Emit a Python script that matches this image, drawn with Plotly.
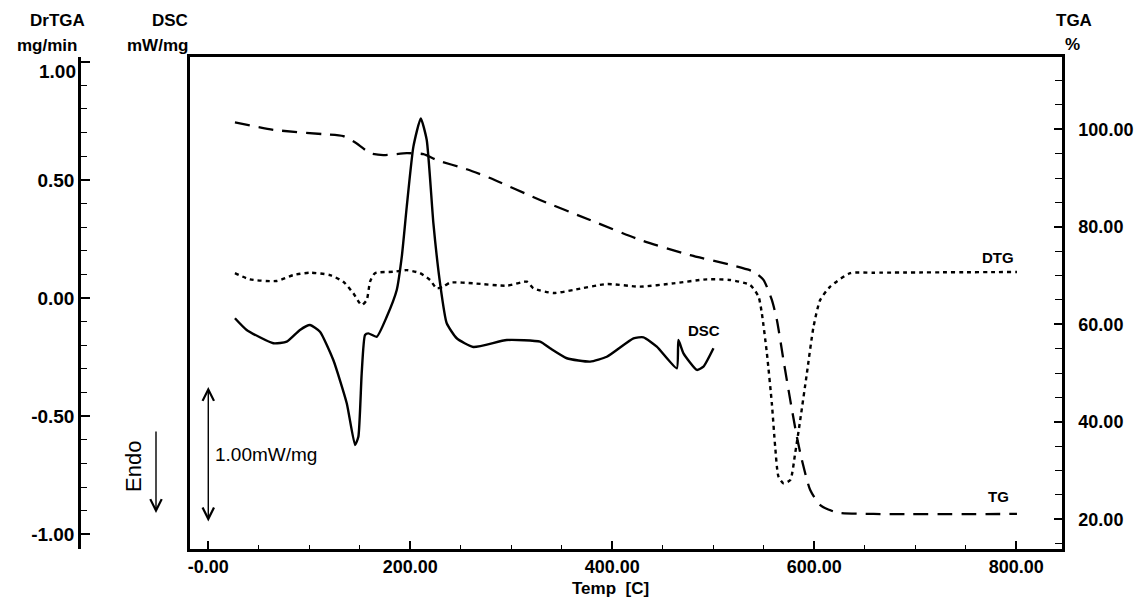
import plotly.graph_objects as go

# ---- thermal analysis data ----
# TGA (weight %, right axis)
tga_temp = [26.4, 64.4, 113.9, 133.7, 147.0, 160.2, 173.3, 196.5, 213.0, 226.2, 255.9, 279.0,
            328.5, 378.0, 427.6, 477.1, 516.7, 539.8, 549.7, 558.0, 563.0, 569.5, 576.2, 582.8,
            587.7, 596.0, 605.9, 622.4, 658.7, 800.7]
tga_pct = [101.4, 99.9, 99.0, 98.6, 97.1, 95.1, 94.7, 95.1, 94.9, 93.7, 91.8, 90.0,
           85.5, 81.4, 77.3, 74.2, 72.2, 70.8, 69.1, 65.0, 60.9, 52.7, 44.5, 36.9,
           32.2, 26.0, 22.9, 21.4, 21.1, 21.1]

# DTG (mg/min, far-left axis)
dtg_temp = [26.4, 41.3, 67.7, 84.2, 100.7, 120.5, 133.7, 143.6, 151.9, 156.9, 160.2, 165.1,
            183.2, 196.5, 209.7, 219.6, 226.2, 232.8, 239.4, 262.5, 295.6, 315.4, 321.9, 341.7,
            361.5, 394.6, 427.6, 460.6, 493.7, 516.7, 536.5, 544.8, 548.1, 553.1, 558.0, 561.3,
            564.6, 569.5, 576.2, 581.1, 586.1, 592.7, 599.3, 605.9, 615.8, 635.6, 658.7, 800.7]
dtg_val = [0.105, 0.079, 0.072, 0.097, 0.107, 0.097, 0.069, 0.020, -0.030, -0.008, 0.069, 0.105,
           0.111, 0.118, 0.105, 0.076, 0.041, 0.048, 0.065, 0.062, 0.052, 0.069, 0.041, 0.021,
           0.034, 0.059, 0.048, 0.062, 0.079, 0.076, 0.055, 0.006, -0.065, -0.234, -0.446, -0.629,
           -0.756, -0.784, -0.770, -0.657, -0.516, -0.319, -0.121, -0.008, 0.048, 0.105, 0.107, 0.110]

# DSC (mW/mg, left frame axis, no tick labels)
dsc_temp = [26.4, 38.0, 64.4, 77.7, 90.8, 100.7, 110.6, 123.8, 137.1, 145.3, 148.6, 151.9,
            155.2, 158.5, 166.8, 176.7, 186.6, 191.6, 196.5, 203.1, 210.4, 216.3, 222.9, 229.5,
            236.1, 246.0, 262.5, 295.6, 328.5, 338.4, 355.0, 378.1, 394.6, 421.0, 430.9, 444.1,
            463.9, 465.5, 470.5, 483.8, 490.3, 500.2]
dsc_val = [-0.149, -0.235, -0.333, -0.321, -0.235, -0.199, -0.248, -0.456, -0.774, -1.081, -1.020, -0.554,
           -0.272, -0.260, -0.285, -0.138, 0.059, 0.304, 0.671, 1.113, 1.321, 1.162, 0.549, 0.108,
           -0.186, -0.296, -0.360, -0.309, -0.321, -0.370, -0.443, -0.468, -0.432, -0.296, -0.289, -0.358,
           -0.517, -0.309, -0.407, -0.529, -0.505, -0.370]

# ---- axis ticks ----
x_tickvals = [0, 200, 400, 600, 800]
x_ticktext = ["-0.00", "200.00", "400.00", "600.00", "800.00"]
tga_tickvals = [20, 40, 60, 80, 100]
tga_ticktext = ["20.00", "40.00", "60.00", "80.00", "100.00"]
dtg_tickvals = [-1.0, -0.5, 0.0, 0.5, 1.0]
dtg_ticktext = ["-1.00", "-0.50", "0.00", "0.50", "1.00"]

FONT = "Arial, Liberation Sans, sans-serif"
TICK_FONT = dict(family=FONT, size=18, color="black", weight="bold")
LEFT_TICK_FONT = dict(family=FONT, size=19, color="black", weight="bold")

fig = go.Figure()

fig.add_trace(go.Scatter(
    x=tga_temp, y=tga_pct, yaxis="y2", mode="lines",
    line=dict(color="black", width=2.3, dash="15px,9px", shape="spline", smoothing=0.6),
    showlegend=False, hoverinfo="skip"))

fig.add_trace(go.Scatter(
    x=dtg_temp, y=dtg_val, yaxis="y3", mode="lines",
    line=dict(color="black", width=2.4, dash="4px,4px", shape="spline", smoothing=0.6),
    showlegend=False, hoverinfo="skip"))

fig.add_trace(go.Scatter(
    x=dsc_temp, y=dsc_val, yaxis="y", mode="lines",
    line=dict(color="black", width=2.4, shape="spline", smoothing=0.5),
    showlegend=False, hoverinfo="skip"))

W, H = 1141, 597
ML, MR, MT, MB = 79, 79, 57, 48
plot_w = W - ML - MR
x_left_px = 190
x_dom0 = (x_left_px - ML) / plot_w

# the top DrTGA label sits just below its tick, so it is drawn separately
dtg_axis_text = [t if v != 1.0 else "" for v, t in zip(dtg_tickvals, dtg_ticktext)]

fig.update_layout(
    width=W, height=H,
    margin=dict(l=ML, r=MR, t=MT, b=MB, autoexpand=False),
    paper_bgcolor="white", plot_bgcolor="white",
    xaxis=dict(
        domain=[x_dom0, 1], range=[-18.1, 845.3], automargin=False,
        showline=True, linecolor="black", linewidth=2.5, mirror=True,
        ticks="inside", ticklen=8, tickwidth=1.6, tickcolor="black",
        tickvals=x_tickvals, ticktext=x_ticktext, tickfont=TICK_FONT,
        ticklabelstandoff=0,
        minor=dict(dtick=50, tick0=0, ticks="inside", ticklen=4, tickwidth=1.4, tickcolor="black"),
        showgrid=False, zeroline=False),
    yaxis=dict(
        range=[-1.8456, 1.7721], automargin=False,
        showline=True, linecolor="black", linewidth=2.5,
        ticks="", showticklabels=False, showgrid=False, zeroline=False),
    yaxis2=dict(
        overlaying="y", side="right", anchor="x", range=[13.91, 114.83], automargin=False,
        showline=True, linecolor="black", linewidth=2.5,
        ticks="inside", ticklen=8, tickwidth=1.6, tickcolor="black",
        tickvals=tga_tickvals, ticktext=tga_ticktext, tickfont=TICK_FONT,
        ticklabelstandoff=10,
        minor=dict(dtick=5, tick0=0, ticks="inside", ticklen=7, tickwidth=1.4, tickcolor="black"),
        showgrid=False, zeroline=False),
    yaxis3=dict(
        overlaying="y", side="left", anchor="free", position=0, range=[-1.0622, 1.0199],
        automargin=False,
        showline=True, linecolor="black", linewidth=2.5,
        ticks="inside", ticklen=9, tickwidth=1.6, tickcolor="black",
        tickvals=dtg_tickvals, ticktext=dtg_axis_text, tickfont=LEFT_TICK_FONT,
        minor=dict(dtick=0.1, tick0=0, ticks="inside", ticklen=6, tickwidth=1.4, tickcolor="black"),
        showgrid=False, zeroline=False),
)


def px_x(p):
    return (p - ML) / plot_w


def px_y(p):
    return (H - MB - p) / (H - MT - MB)


fig.add_annotation(text=dtg_ticktext[-1], xref="paper", yref="paper", x=px_x(78), y=px_y(71),
                   xanchor="right", yanchor="middle", showarrow=False, font=LEFT_TICK_FONT)

title_font = dict(family=FONT, size=17, color="black", weight="bold")
labels = [
    ("DrTGA", 87, 21, "right"),
    ("mg/min", 79, 46, "right"),
    ("DSC", 190, 21, "right"),
    ("mW/mg", 190, 46, "right"),
    ("TGA", 1074, 20, "center"),
    ("%", 1072, 45, "center"),
    ("Temp  [C]", 610, 588, "center"),
]
for text, xp, yp, anchor in labels:
    fig.add_annotation(text=text, xref="paper", yref="paper", x=px_x(xp), y=px_y(yp),
                       xanchor=anchor, yanchor="middle", showarrow=False, font=title_font)

# curve labels
curve_font = dict(family=FONT, size=15, color="black", weight="bold")
fig.add_annotation(text="DTG", x=800, y=0.17, xref="x", yref="y3", xanchor="right",
                   showarrow=False, font=curve_font)
fig.add_annotation(text="TG", x=795, y=24.6, xref="x", yref="y2", xanchor="right",
                   showarrow=False, font=curve_font)
fig.add_annotation(text="DSC", x=491, y=-0.24, xref="x", yref="y", xanchor="center",
                   showarrow=False, font=curve_font)

# 1.00 mW/mg scale bar (double-headed arrow)
scale_top = -0.654
fig.add_annotation(x=0, y=scale_top, xref="x", yref="y", text="", showarrow=True,
                   ax=0, ay=136, axref="pixel", ayref="pixel",
                   arrowhead=5, startarrowhead=5, arrowside="end+start",
                   arrowsize=1.6, arrowwidth=1.4, arrowcolor="black", standoff=0, startstandoff=0)
fig.add_annotation(text="1.00mW/mg", x=5, y=scale_top - 0.5, xref="x", yref="y",
                   xanchor="left", yanchor="middle", showarrow=False,
                   font=dict(family=FONT, size=19, color="black"))

# Endo direction marker
fig.add_annotation(x=px_x(156), y=px_y(513), xref="paper", yref="paper", text="",
                   showarrow=True, ax=0, ay=-83, axref="pixel", ayref="pixel",
                   arrowhead=5, arrowsize=1.6, arrowwidth=1.4, arrowcolor="black", standoff=0)
fig.add_annotation(text="Endo", x=px_x(133), y=px_y(467), xref="paper", yref="paper",
                   textangle=-90, showarrow=False, xanchor="center", yanchor="middle",
                   font=dict(family=FONT, size=22, color="black"))

fig.write_html("out.html")
